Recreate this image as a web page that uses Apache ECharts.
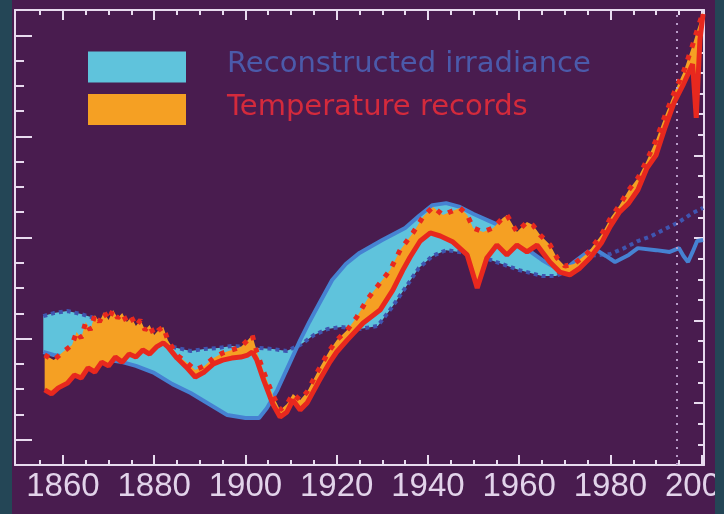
<!DOCTYPE html>
<html>
<head>
<meta charset="utf-8">
<title>Reconstructed irradiance and temperature records</title>
<script src="https://cdn.jsdelivr.net/npm/echarts@6.0.0/dist/echarts.min.js"></script>
<style>
  html, body { margin: 0; padding: 0; background: #244656; }
  #chart { width: 724px; height: 514px; }
</style>
</head>
<body>
<div id="chart"></div>
<script>
// temperature records, upper (dashed) and lower (solid) edge of the band: [year, anomaly]
var tempUpper = [
  [1856, -0.065], [1858, -0.085], [1860, -0.053], [1862, -0.025], [1863, 0.026], [1864, 0.002],
  [1865, 0.066], [1866, 0.034], [1867, 0.093], [1868, 0.066], [1869, 0.105], [1870, 0.074],
  [1871, 0.113], [1872, 0.081], [1873, 0.101], [1874, 0.066], [1875, 0.085], [1876, 0.050],
  [1877, 0.074], [1878, 0.034], [1879, 0.054], [1880, 0.014], [1881, 0.034], [1882, 0.046],
  [1883, -0.006], [1885, -0.065], [1887, -0.093], [1889, -0.124], [1891, -0.108], [1893, -0.077],
  [1895, -0.057], [1897, -0.045], [1899, -0.033], [1900.5, -0.006], [1901.5, 0.014], [1902.5, -0.053],
  [1904, -0.132], [1906, -0.223], [1907.6, -0.282], [1909.1, -0.259], [1910.4, -0.219], [1912, -0.243],
  [1913.5, -0.211], [1916, -0.124], [1918.5, -0.045], [1920, -0.006], [1922.3, 0.034], [1924.4, 0.085],
  [1926.6, 0.153], [1928.8, 0.204], [1931.7, 0.271], [1933.9, 0.350], [1936.7, 0.418], [1938.9, 0.481],
  [1941.1, 0.521], [1943.3, 0.489], [1944.8, 0.501], [1947, 0.517], [1948.6, 0.489], [1949.9, 0.438],
  [1952.1, 0.422], [1954.3, 0.438], [1956.4, 0.477], [1957.3, 0.489], [1959.5, 0.422], [1961.7, 0.461],
  [1963, 0.449], [1964.6, 0.410], [1966.8, 0.370], [1968.3, 0.319], [1970, 0.287], [1972, 0.295],
  [1975, 0.339], [1978, 0.410], [1980, 0.477], [1982, 0.528], [1984, 0.588], [1986, 0.635],
  [1988, 0.706], [1990, 0.786], [1992, 0.884], [1994, 0.975], [1996, 1.055], [1998, 1.161],
  [1999, 1.221], [2000.3, 1.292]
];
var tempLower = [
  [1856, -0.203], [1857.5, -0.219], [1859, -0.195], [1861, -0.176], [1862.5, -0.144], [1864, -0.156],
  [1865.5, -0.116], [1867, -0.132], [1868.5, -0.093], [1870, -0.108], [1871.5, -0.073], [1873, -0.093],
  [1874.5, -0.061], [1876, -0.073], [1877.5, -0.045], [1879, -0.061], [1880.5, -0.033], [1882, -0.017],
  [1883, -0.033], [1885, -0.077], [1887, -0.112], [1889, -0.152], [1891, -0.132], [1893, -0.100],
  [1895, -0.085], [1897, -0.077], [1899, -0.073], [1900.5, -0.065], [1901.5, -0.053], [1902.5, -0.085],
  [1904, -0.164], [1906, -0.259], [1907.6, -0.310], [1909.1, -0.290], [1910.4, -0.243], [1912, -0.282],
  [1913.5, -0.255], [1916, -0.172], [1918.5, -0.093], [1920, -0.053], [1922.3, -0.006], [1925.8, 0.062],
  [1929.5, 0.113], [1932.3, 0.192], [1934.5, 0.271], [1936.1, 0.323], [1938.3, 0.386], [1940.5, 0.418],
  [1942.7, 0.406], [1945.5, 0.382], [1948.6, 0.331], [1950.8, 0.200], [1952.9, 0.319], [1955.1, 0.370],
  [1957.3, 0.331], [1959.5, 0.370], [1961.7, 0.343], [1963.9, 0.370], [1966.7, 0.303], [1968.9, 0.263],
  [1971.1, 0.252], [1973.3, 0.279], [1975.5, 0.319], [1978, 0.378], [1980, 0.445], [1982, 0.501],
  [1984, 0.536], [1986, 0.588], [1988, 0.675], [1990, 0.726], [1992, 0.837], [1994, 0.936],
  [1996, 1.007], [1998, 1.086], [1998.8, 0.873], [1999.6, 1.181], [2000.3, 1.284]
];

// reconstructed irradiance, two reconstructions (dashed, solid), plotted on the same scale
var irrDashed = [
  [1855.7, 0.089], [1858, 0.101], [1861, 0.109], [1864, 0.097], [1867, 0.081], [1870, 0.054],
  [1875, 0.014], [1880, -0.013], [1885, -0.037], [1888, -0.049], [1891, -0.041], [1894, -0.037],
  [1897, -0.029], [1900, -0.033], [1903, -0.037], [1906, -0.041], [1909, -0.049], [1912, -0.025],
  [1915, 0.014], [1918, 0.038], [1921, 0.046], [1925, 0.038], [1929, 0.050], [1932, 0.121],
  [1935, 0.200], [1938, 0.279], [1941, 0.327], [1944, 0.350], [1950, 0.335], [1955, 0.303],
  [1960, 0.271], [1965, 0.248], [1968, 0.248], [1970, 0.263], [1975, 0.327], [1980, 0.335],
  [1983, 0.358], [1986, 0.386], [1989, 0.406], [1992, 0.434], [1995, 0.461], [1998, 0.497],
  [2000.3, 0.517]
];
var irrSolid = [
  [1855.7, -0.053], [1858, -0.065], [1861, -0.073], [1865, -0.077], [1870, -0.085], [1873, -0.093],
  [1876, -0.108], [1880, -0.136], [1884, -0.180], [1888, -0.215], [1892, -0.259], [1896, -0.302],
  [1900, -0.314], [1903, -0.314], [1904.7, -0.275], [1907, -0.203], [1909.8, -0.093], [1912, -0.006],
  [1914, 0.066], [1916, 0.133], [1919, 0.232], [1922, 0.295], [1925, 0.339], [1930, 0.390],
  [1935, 0.438], [1938, 0.485], [1941, 0.528], [1944, 0.536], [1947, 0.521], [1950, 0.493],
  [1953, 0.469], [1956, 0.445], [1959, 0.402], [1962, 0.350], [1965, 0.311], [1968, 0.279],
  [1970, 0.271], [1972, 0.303], [1975, 0.343], [1977, 0.350], [1979, 0.327], [1981, 0.303],
  [1984, 0.331], [1986, 0.358], [1990, 0.350], [1993, 0.343], [1995, 0.358], [1996, 0.327],
  [1997, 0.303], [1998, 0.343], [1999, 0.386], [2000.3, 0.390]
];
var irrBandEnd = 1970;   // the shaded irradiance range stops here
var markYear = 1994.6;   // dotted vertical marker

// axis ticks
var xMajor = [1860, 1880, 1900, 1920, 1940, 1960, 1980, 2000];
var xMinor = [1855, 1860, 1865, 1870, 1875, 1880, 1885, 1890, 1895, 1900, 1905, 1910, 1915, 1920,
  1925, 1930, 1935, 1940, 1945, 1950, 1955, 1960, 1965, 1970, 1975, 1980, 1985, 1990, 1995, 2000];
var yLeftMajor = [-0.4, 0, 0.4, 0.8, 1.2];
var yLeftMinor = [-0.4, -0.3, -0.2, -0.1, 0, 0.1, 0.2, 0.3, 0.4, 0.5, 0.6, 0.7, 0.8, 0.9, 1.0, 1.1, 1.2];
var yRightMajor = [3, 7, 11, 15, 19];
var yRightMinor = [1, 2, 3, 4, 5, 6, 7, 8, 9, 10, 11, 12, 13, 14, 15, 16, 17, 18, 19, 20, 21];

var chart = echarts.init(document.getElementById('chart'));

var frame = '#e8dbef';
var cyan = '#5fc3dc', orange = '#f5a023', red = '#e8281e';
var blue = '#4682d2', darkBlue = '#3f55b0';

// filled range between two edges (polygon through the axis scales)
function band(name, upper, lower, color, z) {
  var pts = upper.concat(lower.slice().reverse());
  return {
    name: name,
    type: 'custom',
    z: z,
    silent: true,
    data: pts,
    encode: { x: 0, y: 1 },
    renderItem: function (params, api) {
      if (params.dataIndex !== 0) return;
      return {
        type: 'polygon',
        shape: { points: pts.map(function (p) { return api.coord(p); }) },
        style: { fill: color }
      };
    }
  };
}

function edge(data, color, width, type, z) {
  return {
    type: 'line',
    data: data,
    symbol: 'none',
    silent: true,
    z: z,
    lineStyle: { color: color, width: width, type: type }
  };
}

function upTo(data, year) {
  return data.filter(function (p) { return p[0] <= year; });
}

function xAx(position, ticks, len, showLine, labels) {
  return {
    type: 'value', position: position, min: 1849.5, max: 2000.5,
    axisLine: { show: showLine, onZero: false, lineStyle: { color: frame, width: 2 } },
    axisTick: { inside: true, length: len, customValues: ticks, lineStyle: { color: frame, width: 2 } },
    axisLabel: labels ? {
      customValues: labels, color: '#e2d3ea', fontSize: 33, fontFamily: 'Liberation Sans', margin: 5,
      formatter: function (v) { return String(v); }
    } : { show: false },
    splitLine: { show: false }
  };
}

function yAx(position, min, max, ticks, len, showLine) {
  return {
    type: 'value', position: position, min: min, max: max,
    axisLine: { show: showLine, onZero: false, lineStyle: { color: frame, width: 2 } },
    axisTick: { inside: true, length: len, customValues: ticks, lineStyle: { color: frame, width: 2 } },
    axisLabel: { show: false },
    splitLine: { show: false }
  };
}

var solidIrr = edge(irrSolid, blue, 4, 'solid', 3);
solidIrr.markLine = {
  symbol: 'none', silent: true, label: { show: false },
  lineStyle: { color: '#b89cc8', width: 2, type: [2, 6] },
  data: [{ xAxis: markYear }]
};

var option = {
  backgroundColor: '#491c4f',
  animation: false,
  grid: { left: 15, right: 20, top: 10, bottom: 49, containLabel: false, outerBoundsMode: 'none' },
  legend: {
    orient: 'vertical', left: 83, top: 45,
    itemWidth: 98, itemHeight: 31, itemGap: 10,
    selectedMode: false,
    formatter: '{t|{name}}',
    textStyle: {
      fontFamily: 'DejaVu Sans', fontSize: 29,
      rich: { t: { fontFamily: 'DejaVu Sans', fontSize: 29, padding: [0, 0, 5, 36] } }
    },
    data: [
      { name: 'Reconstructed irradiance', icon: 'rect', itemStyle: { color: cyan }, textStyle: { color: '#4b5aaa' } },
      { name: 'Temperature records', icon: 'rect', itemStyle: { color: orange }, textStyle: { color: '#d42a3c' } }
    ]
  },
  xAxis: [
    xAx('bottom', xMinor, 5, true),
    xAx('bottom', xMajor, 10, false, xMajor),
    xAx('top', xMinor, 5, true),
    xAx('top', xMajor, 10, false)
  ],
  yAxis: [
    yAx('left', -0.5, 1.3, yLeftMinor, 9, true),
    yAx('left', -0.5, 1.3, yLeftMajor, 17, false),
    yAx('right', 0, 22.05, yRightMinor, 6, true),
    yAx('right', 0, 22.05, yRightMajor, 10, false)
  ],
  graphic: [
    { type: 'rect', z: 100, shape: { x: 0, y: 0, width: 12, height: 514 }, style: { fill: '#244656' } },
    { type: 'rect', z: 100, shape: { x: 715, y: 0, width: 9, height: 514 }, style: { fill: '#244656' } }
  ],
  series: [
    band('Reconstructed irradiance', upTo(irrDashed, irrBandEnd), upTo(irrSolid, irrBandEnd), cyan, 1),
    edge(irrDashed, darkBlue, 4, [4, 4], 2),
    solidIrr,
    band('Temperature records', tempUpper, tempLower, orange, 4),
    edge(tempLower, red, 5, 'solid', 5),
    edge(tempUpper, red, 5, [5, 8], 6)
  ]
};

chart.setOption(option);
</script>
</body>
</html>
